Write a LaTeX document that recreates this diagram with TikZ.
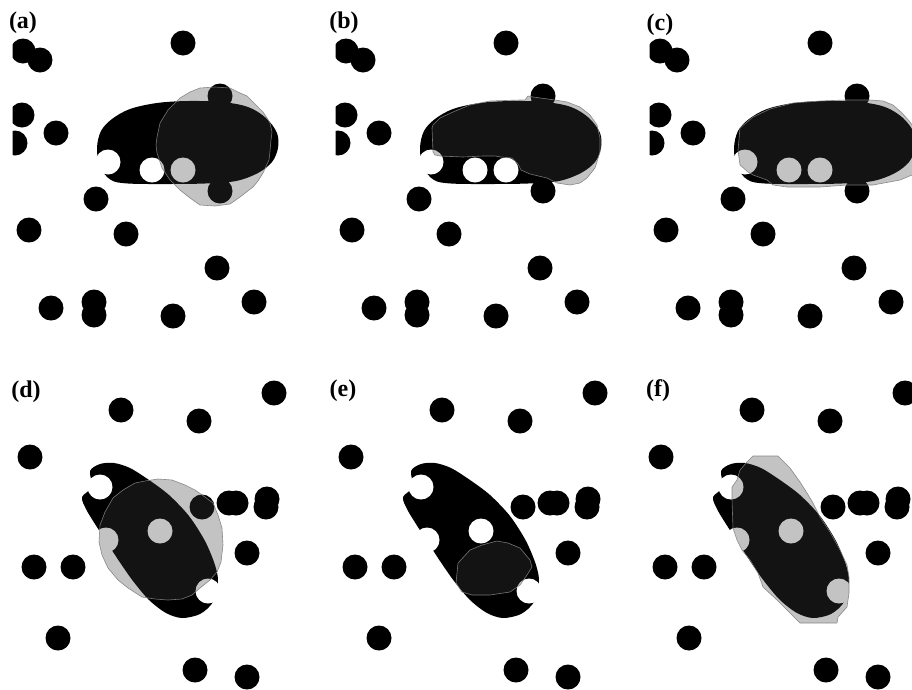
\documentclass[tikz,border=0pt]{standalone}
\usepackage{fontspec}
\setmainfont{Liberation Serif}
\newcommand{\dotrad}{12.5pt}

% Black scene of the upper row: the egg-shaped body, its holes and the free particles
\newcommand{\topscene}{%
  \fill plot[smooth cycle, tension=0.55] coordinates {
    (97,148) (101,131) (112,119) (130,109) (157,103) (188,101) (222,102)
    (248,107) (266,118) (277,133) (278,148) (272,162) (258,173) (236,181)
    (205,183.5) (165,184) (128,183.5) (111,180) (100,167)};
  \foreach \p in {(108,162),(152,170),(183,170)}
    \fill[white] \p circle[radius=\dotrad];
  \foreach \p in {(23,51),(40,60),(183,43),(22,115),(15,143),(56,133),(96,199),
                  (29,230),(126,234),(217,268),(51,308),(94,302),(94,315),
                  (173,316),(254,302),(220,96),(220,191)}
    \fill \p circle[radius=\dotrad];
}

% Black scene of the lower row: the tilted body, its holes and the free particles
\newcommand{\bottomscene}{%
  \fill plot[smooth cycle, tension=0.5] coordinates {
    (100,464) (114,463) (130,468) (149,480) (169,495) (189,516) (205,541)
    (215,565) (218,582) (213,602) (200,614) (182,618) (166,613) (149,600)
    (133,581) (119,561) (106,541) (95,524) (86,509) (82,497) (92,487) (90,471)};
  \foreach \p in {(100,487),(106,540),(160,531),(208,591)}
    \fill[white] \p circle[radius=\dotrad];
  \foreach \p in {(274,393),(121,410),(199,421),(30,457),(202,507),(229,503),
                  (236,503),(267,499),(266,507),(247,553),(34,567),(73,567),
                  (58,638),(195,670),(247,677)}
    \fill \p circle[radius=\dotrad];
}

\tikzset{
  segzone/.style={fill=black!75, fill opacity=0.31, draw=black!50,
                  draw opacity=0.9, line width=0.6pt, line join=round},
  panellabel/.style={font=\bfseries\fontsize{24}{24}\selectfont, inner sep=0pt},
}

\begin{document}
\begin{tikzpicture}[x=1pt,y=-1pt]
\useasboundingbox[fill=white] (0,0) rectangle (912,689);

% ---------- (a) ----------
\begin{scope}
  \clip (12.5,0) rectangle (330,345);
  \topscene
  \draw[segzone] (200,88) -- (215,87) -- (230,88) -- (240,93) -- (247,96) -- (253,102)
    -- (263,112) -- (267,118) -- (270,123) -- (272,132) -- (271,140) -- (270,151)
    -- (269,160) -- (263,173) -- (258,181) -- (253,187) -- (240,197) -- (230,204)
    -- (215,206) -- (200,205) -- (190,198) -- (180,190) -- (170,180) -- (162,168)
    -- (157,153) -- (156,145) -- (157,137) -- (160,123) -- (168,110) -- (180,98)
    -- (190,92) -- cycle;
\end{scope}

% ---------- (b) ----------
\begin{scope}[xshift=323pt]
  \clip (12.5,0) rectangle (330,345);
  \topscene
  \draw[segzone] (109,128) -- (110,152) -- (112,155) -- (117,156) -- (140,157)
    -- (160,156) -- (172,156) -- (178,157) -- (189,158) -- (195,164) -- (198,170)
    -- (207,174) -- (224,178) -- (234,183) -- (247,185) -- (257,183) -- (264,178)
    -- (272,168) -- (277,152) -- (277,138) -- (274,125) -- (267,115) -- (257,107)
    -- (244,102) -- (232,100) -- (210,97) -- (205,96) -- (202,100) -- (197,100)
    -- (167,101) -- (147,105) -- (130,112) -- (117,118) -- (110,125) -- cycle;
\end{scope}

% ---------- (c) ----------
\begin{scope}[xshift=637pt]
  \clip (12.5,0) rectangle (330,345);
  \topscene
  \draw[segzone] (103,128) -- (116,117) -- (133,109) -- (156,103) -- (183,101)
    -- (208,100) -- (233,100) -- (246,101) -- (256,105) -- (265,113) -- (273,122)
    -- (282,135) -- (282,172) -- (275,175) -- (263,180) -- (236,185) -- (210,185)
    -- (183,187) -- (150,187) -- (136,185) -- (130,180) -- (116,175) -- (111,172)
    -- (103,165) -- (101,150) -- cycle;
\end{scope}

% ---------- (d) ----------
\begin{scope}
  \bottomscene
  \draw[segzone] (145,481) -- (158,479) -- (172,480) -- (185,485) -- (195,490)
    -- (205,497) -- (213,503) -- (218,515) -- (222,528) -- (223,545) -- (221,562)
    -- (217,572) -- (210,580) -- (200,588) -- (192,595) -- (182,599) -- (168,600)
    -- (155,599) -- (142,597) -- (128,588) -- (118,580) -- (108,568) -- (102,555)
    -- (99,542) -- (100,525) -- (105,512) -- (113,498) -- (123,490) -- (135,483) -- cycle;
\end{scope}

% ---------- (e) ----------
\begin{scope}[xshift=321pt]
  \bottomscene
  \draw[segzone] (135,583) -- (137,563) -- (149,550) -- (161,545) -- (176,541)
    -- (187,543) -- (199,548) -- (209,560) -- (211,567) -- (206,575) -- (199,585)
    -- (189,592) -- (169,595) -- (151,595) -- (141,592) -- cycle;
\end{scope}

% ---------- (f) ----------
\begin{scope}[xshift=631pt]
  \bottomscene
  \draw[segzone] (122,456) -- (147,456) -- (159,468) -- (169,482) -- (176,493)
    -- (182,503) -- (189,517) -- (199,532) -- (209,550) -- (216,565) -- (218,577)
    -- (218,593) -- (216,607) -- (207,617) -- (206,623) -- (169,623) -- (159,613)
    -- (146,600) -- (132,587) -- (127,573) -- (119,560) -- (111,550) -- (106,540)
    -- (102,528) -- (101,500) -- (101,487) -- (106,480) -- (109,470) -- (116,462) -- cycle;
\end{scope}

% ---------- panel labels ----------
\node[panellabel] (la) at (23,23) {(a)};
\node[panellabel] (lb) at (344,23) {(b)};
\node[panellabel] (lc) at (660,25) {(c)};
\node[panellabel] (ld) at (26,392) {(d)};
\node[panellabel] (le) at (343,391) {(e)};
\node[panellabel] (lf) at (658,391) {(f)};
\end{tikzpicture}
\end{document}
